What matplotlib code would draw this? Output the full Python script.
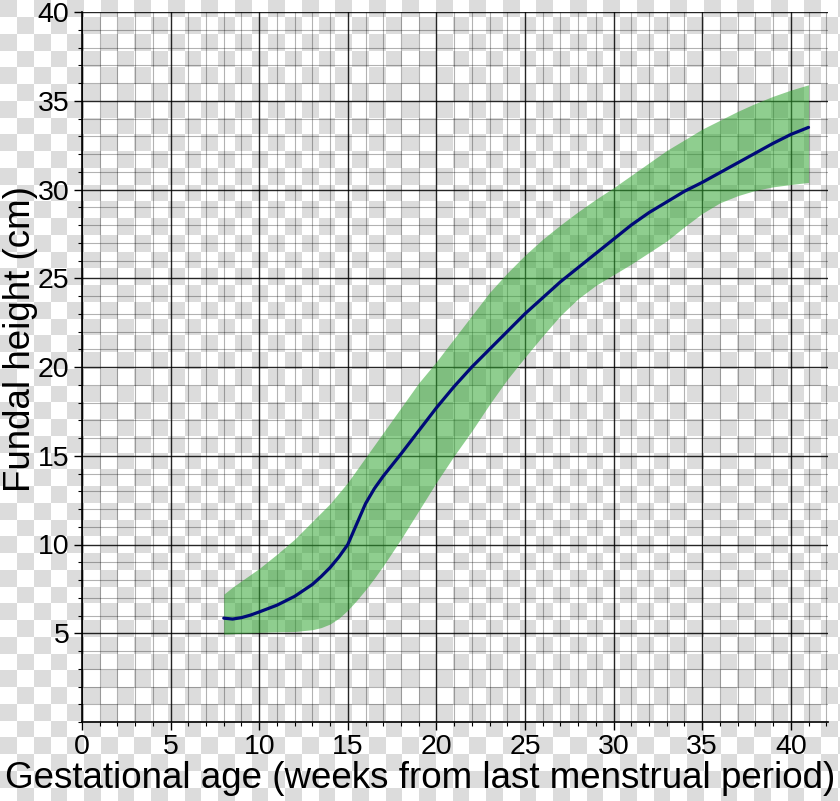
import numpy as np
import matplotlib.pyplot as plt
from matplotlib.ticker import MultipleLocator

# gestational age (weeks) and fundal height (cm)
weeks = [8, 8.5, 9, 9.5, 10, 11, 12, 13, 13.5, 14, 14.5, 15, 15.5, 16, 16.5, 17, 18, 19, 20,
         21, 22, 23, 24, 25, 26, 27, 28, 29, 30, 31, 32, 33, 34, 35, 36, 37, 38, 39, 40, 41]
median = [5.85, 5.8, 5.88, 6.02, 6.2, 6.58, 7.08, 7.75, 8.2, 8.7, 9.3, 10.0, 11.15, 12.3, 13.15,
          13.85, 15.1, 16.4, 17.7, 18.9, 20.0, 21.0, 22.0, 23.0, 23.9, 24.8, 25.6, 26.4, 27.2,
          28.0, 28.7, 29.3, 29.9, 30.4, 30.95, 31.5, 32.05, 32.6, 33.1, 33.5]
upper = [7.2, 7.6, 7.95, 8.3, 8.65, 9.45, 10.3, 11.3, 11.8, 12.3, 12.9, 13.5, 14.2, 14.9, 15.6,
         16.3, 17.7, 19.1, 20.3, 21.6, 22.9, 24.2, 25.3, 26.3, 27.2, 28.0, 28.75, 29.45, 30.1,
         30.8, 31.5, 32.2, 32.8, 33.4, 33.9, 34.4, 34.85, 35.25, 35.6, 35.9]
lower = [4.95, 4.97, 5.0, 5.02, 5.05, 5.08, 5.1, 5.2, 5.32, 5.52, 5.85, 6.3, 6.85, 7.45, 8.1,
         8.8, 10.3, 11.9, 13.5, 15.0, 16.4, 17.9, 19.3, 20.55, 21.75, 22.9, 23.85, 24.6, 25.2,
         25.8, 26.45, 27.1, 27.9, 28.65, 29.25, 29.65, 29.95, 30.15, 30.28, 30.4]

W, H = 840, 801
fig = plt.figure(figsize=(W / 100, H / 100), dpi=100)
plt.rcParams['font.family'] = ['Liberation Sans', 'DejaVu Sans']

# transparency checkerboard behind everything
sq = 16.75
jj, ii = np.meshgrid(np.arange(W), np.arange(H))
checker = ((jj // sq + ii // sq) % 2 == 0)
bg = np.where(checker, 0.863, 1.0)
bax = fig.add_axes([0, 0, 1, 1], zorder=-10)
bax.imshow(bg, cmap='gray', vmin=0, vmax=1, interpolation='nearest', aspect='auto',
           extent=[0, 1, 0, 1])
bax.axis('off')

ax = fig.add_axes([82 / W, 1 - 722 / H, 746 / W, 710 / H])
ax.patch.set_alpha(0)

ax.fill_between(weeks, lower, upper, color=(0.2, 0.65, 0.2), alpha=0.55, linewidth=0, zorder=2)
ax.plot(weeks, median, color='#000a78', linewidth=2.3, zorder=3,
        solid_capstyle='round', solid_joinstyle='round')

ax.set_xlim(0, 42.1)
ax.set_ylim(0, 40)

ax.xaxis.set_major_locator(MultipleLocator(5))
ax.yaxis.set_major_locator(MultipleLocator(5))
ax.xaxis.set_minor_locator(MultipleLocator(1))
ax.yaxis.set_minor_locator(MultipleLocator(1))
ax.grid(which='major', color='black', linewidth=1.0, alpha=0.85, zorder=1)
ax.grid(which='minor', color='black', linewidth=0.8, alpha=0.3, zorder=1)
ax.set_axisbelow(True)

ax.set_yticks([5, 10, 15, 20, 25, 30, 35, 40])
ax.tick_params(which='major', direction='out', length=6, width=1, labelsize=20.5, pad=3)
ax.tick_params(which='minor', direction='out', length=3, width=0.8)

for s in ['top', 'right']:
    ax.spines[s].set_visible(False)
for s in ['left', 'bottom']:
    ax.spines[s].set_linewidth(1.2)

ax.set_xlabel("Gestational age (weeks from last menstrual period)", fontsize=26.5, va='center')
ax.set_ylabel("Fundal height (cm)", fontsize=26.5, va='center')
ax.xaxis.set_label_coords(0.453, -0.079)
ax.yaxis.set_label_coords(-0.082, 0.54)

plt.savefig("out.png", dpi=100)
